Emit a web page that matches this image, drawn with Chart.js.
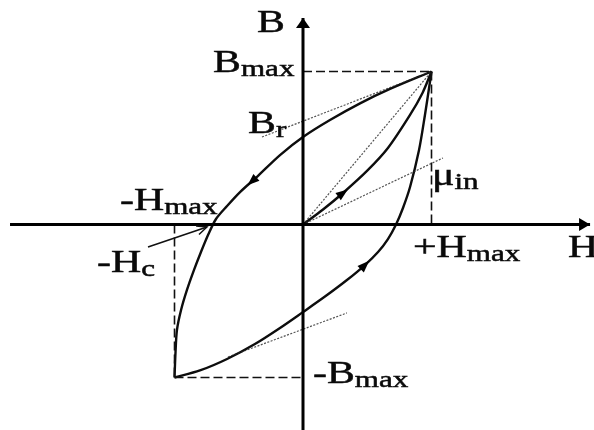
<!DOCTYPE html>
<html>
<head>
<meta charset="utf-8">
<title>B–H hysteresis loop</title>
<script src="https://cdn.jsdelivr.net/npm/chart.js@4/dist/chart.umd.min.js"></script>
<style>
  html, body { margin: 0; padding: 0; background: #fff; }
  #wrap { width: 594px; height: 430px; }
</style>
</head>
<body>
<div id="wrap"><canvas id="c" width="594" height="430"></canvas></div>
<script>
// H in units of Hmax, B in units of Bmax

// descending branch: +Hmax/+Bmax -> Br -> -Hc -> -Hmax/-Bmax
const upperH = [1.000, 0.677, 0.444, 0.210, 0.000, -0.179, -0.358, -0.490, -0.591, -0.677, -0.739, -0.794, -0.848, -0.903, -0.949, -0.981, -0.992, -1.000];
const upperB = [1.000, 0.886, 0.792, 0.683, 0.572, 0.454, 0.312, 0.212, 0.121, 0.036, -0.069, -0.180, -0.297, -0.428, -0.559, -0.690, -0.833, -1.000];

// ascending branch: -Hmax/-Bmax -> -Br -> +Hc -> +Hmax/+Bmax
const lowerH = [-1.000, -0.802, -0.591, -0.374, -0.179, 0.000, 0.171, 0.342, 0.482, 0.584, 0.661, 0.724, 0.778, 0.833, 0.903, 0.949, 0.981, 1.000];
const lowerB = [-1.000, -0.954, -0.879, -0.781, -0.676, -0.572, -0.471, -0.363, -0.265, -0.180, -0.095, 0.000, 0.108, 0.245, 0.487, 0.716, 0.892, 1.000];

// initial magnetisation curve from the demagnetised state
const initH = [0.000, 0.156, 0.311, 0.498, 0.661, 0.833, 0.930, 1.000];
const initB = [0.000, 0.098, 0.206, 0.350, 0.500, 0.716, 0.860, 1.000];

// construction lines (dotted): [H0, B0, H1, B1]
const chordLine    = [0.000, 0.000, 1.000, 1.000];    // amplitude permeability
const muInLine     = [0.000, 0.000, 1.089, 0.435];    // initial permeability tangent
const brLine       = [-0.319, 0.572, 1.000, 1.000];
const lowerTangent = [-0.584, -0.866, 0.342, -0.578];

// dashed limits at ±Hmax / ±Bmax
const limitTop    = [0.000, 1.000, 1.000, 1.000];
const limitRight  = [1.000, 1.000, 1.000, 0.000];
const limitLeft   = [-1.000, 0.000, -1.000, -1.000];
const limitBottom = [-1.000, -1.000, 0.000, -1.000];

// pointer to the coercive field
const hcPointer = [-1.206, -0.147, -0.747, -0.016];

// axes
const hAxis = [-2.280, 0.000, 2.234, 0.000];
const bAxis = [0.000, -1.400, 0.000, 1.350];

// direction arrows on the curves: [H, B, dH, dB]
const curveArrows = [
  [-0.397, 0.282, -0.132, -0.100],
  [0.482, -0.265, 0.102, 0.085],
  [0.311, 0.206, 0.080, 0.050]
];

// text: [main, subscript, H, B] (left end of the baseline)
const labels = [
  ['B', '', -0.358, 1.258],
  ['B', 'max', -0.700, 0.997],
  ['B', 'r', -0.428, 0.598],
  ['-H', 'max', -1.424, 0.095],
  ['-H', 'c', -1.603, -0.310],
  ['\u03BC', 'in', 1.004, 0.258],
  ['+H', 'max', 0.856, -0.212],
  ['H', '', 2.062, -0.212],
  ['-B', 'max', 0.078, -1.036]
];

const X_MIN = -2.3580, X_MAX = 2.2646;
const Y_MIN = -1.3431, Y_MAX = 1.4673;

const pts = (hs, bs) => hs.map((h, i) => ({ x: h, y: bs[i] }));
const seg = s => [{ x: s[0], y: s[1] }, { x: s[2], y: s[3] }];

const curveStyle = { showLine: true, pointRadius: 0, borderColor: '#0d0d0d', borderWidth: 2.4, tension: 0.3, fill: false };
const dottedStyle = { showLine: true, pointRadius: 0, borderColor: 'rgba(40,40,40,0.8)', borderWidth: 1.2, borderDash: [2, 1.5], fill: false };
const dashedStyle = { showLine: true, pointRadius: 0, borderColor: '#111', borderWidth: 1.6, borderDash: [9, 4], fill: false };
const axisStyle = { showLine: true, pointRadius: 0, borderColor: '#000', borderWidth: 3, fill: false };

const datasets = [
  Object.assign({ data: seg(hAxis) }, axisStyle),
  Object.assign({ data: seg(bAxis) }, axisStyle),
  Object.assign({ data: seg(limitTop) }, dashedStyle),
  Object.assign({ data: seg(limitRight) }, dashedStyle),
  Object.assign({ data: seg(limitLeft) }, dashedStyle),
  Object.assign({ data: seg(limitBottom) }, dashedStyle),
  Object.assign({ data: seg(chordLine) }, dottedStyle),
  Object.assign({ data: seg(muInLine) }, dottedStyle),
  Object.assign({ data: seg(brLine) }, dottedStyle),
  Object.assign({ data: seg(lowerTangent) }, dottedStyle),
  Object.assign({ data: pts(upperH, upperB) }, curveStyle),
  Object.assign({ data: pts(lowerH, lowerB) }, curveStyle),
  Object.assign({ data: pts(initH, initB) }, curveStyle),
  { data: seg(hcPointer), showLine: true, pointRadius: 0, borderColor: '#111', borderWidth: 1.6, fill: false }
];

const TEXT_STRETCH = 1.35;
const FONT = '"Liberation Serif", "Times New Roman", serif';

const decorations = {
  id: 'decorations',
  afterDatasetsDraw(chart) {
    const ctx = chart.ctx;
    const sx = chart.scales.x, sy = chart.scales.y;
    const px = (h, b) => [sx.getPixelForValue(h), sy.getPixelForValue(b)];

    const head = (tip, dirx, diry, len, half, filled) => {
      const n = Math.hypot(dirx, diry);
      const ux = dirx / n, uy = diry / n;
      const bx = tip[0] - ux * len, by = tip[1] - uy * len;
      ctx.beginPath();
      ctx.moveTo(bx - uy * half, by + ux * half);
      ctx.lineTo(tip[0], tip[1]);
      ctx.lineTo(bx + uy * half, by - ux * half);
      if (filled) { ctx.closePath(); ctx.fill(); } else { ctx.stroke(); }
    };

    ctx.save();
    ctx.fillStyle = '#000';
    ctx.strokeStyle = '#111';
    ctx.lineWidth = 1.5;

    // axis arrowheads
    const hEnd = px(hAxis[2], hAxis[3]);
    head(hEnd, 1, 0, 11, 6.5, true);
    const bEnd = px(bAxis[2], bAxis[3]);
    head(bEnd, 0, -1, 10, 7, true);

    // direction arrows on the loop
    curveArrows.forEach(a => {
      const p0 = px(a[0], a[1]);
      const p1 = px(a[0] + a[2], a[1] + a[3]);
      const n = Math.hypot(p1[0] - p0[0], p1[1] - p0[1]);
      const tip = [p0[0] + (p1[0] - p0[0]) / n * 6, p0[1] + (p1[1] - p0[1]) / n * 6];
      head(tip, p1[0] - p0[0], p1[1] - p0[1], 12, 4.5, true);
    });

    // open arrowhead of the -Hc pointer
    const pA = px(hcPointer[0], hcPointer[1]);
    const pB = px(hcPointer[2], hcPointer[3]);
    head(pB, pB[0] - pA[0], pB[1] - pA[1], 10, 4.5, false);

    // text
    ctx.textBaseline = 'alphabetic';
    ctx.textAlign = 'left';
    ctx.fillStyle = '#0a0a0a';
    ctx.strokeStyle = '#0a0a0a';
    ctx.lineWidth = 0.5;
    labels.forEach(l => {
      const p = px(l[2], l[3]);
      ctx.save();
      ctx.translate(p[0], p[1]);
      ctx.scale(TEXT_STRETCH, 1);
      ctx.font = '31px ' + FONT;
      ctx.fillText(l[0], 0, 0);
      ctx.strokeText(l[0], 0, 0);
      const w = ctx.measureText(l[0]).width;
      if (l[1]) {
        ctx.font = '23px ' + FONT;
        ctx.fillText(l[1], w, 4);
        ctx.strokeText(l[1], w, 4);
      }
      ctx.restore();
    });
    ctx.restore();
  }
};

new Chart(document.getElementById('c'), {
  type: 'scatter',
  data: { datasets },
  options: {
    responsive: false,
    animation: false,
    events: [],
    layout: { padding: 0 },
    plugins: { legend: { display: false }, tooltip: { enabled: false } },
    scales: {
      x: { type: 'linear', display: false, min: X_MIN, max: X_MAX },
      y: { type: 'linear', display: false, min: Y_MIN, max: Y_MAX }
    }
  },
  plugins: [decorations]
});
</script>
</body>
</html>
